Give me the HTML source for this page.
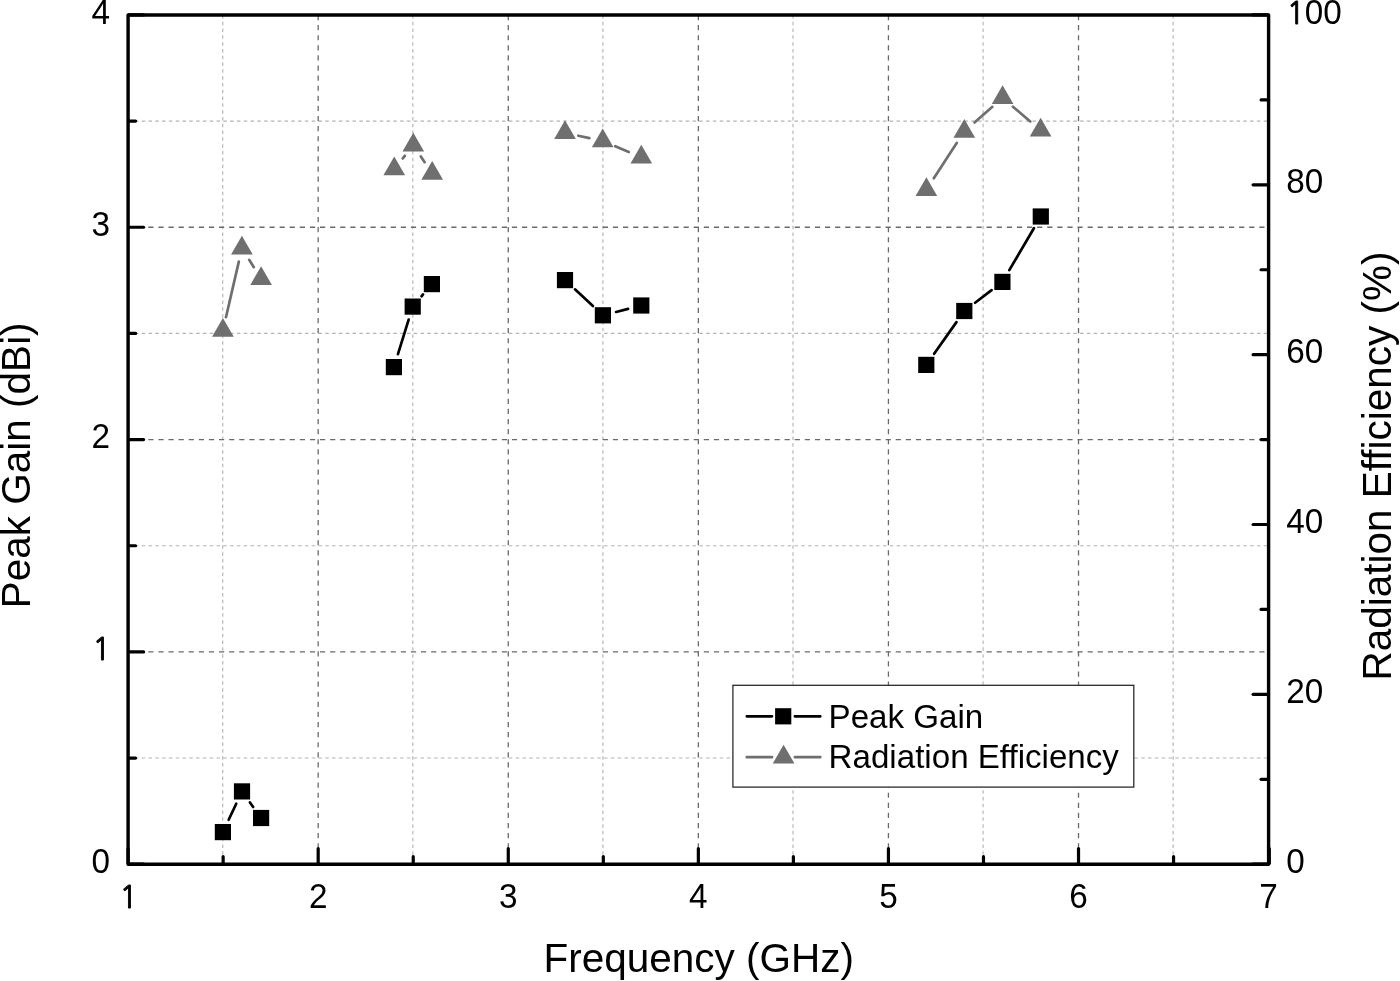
<!DOCTYPE html>
<html lang="en"><head><meta charset="utf-8"><title>Peak Gain and Radiation Efficiency vs Frequency</title>
<style>html,body{margin:0;padding:0;background:#fff;overflow:hidden}svg{display:block}text{font-family:"Liberation Sans", Arial, Helvetica, sans-serif;fill:#000}</style>
</head><body>
<svg width="1400" height="981" viewBox="0 0 1400 981">
<rect x="0" y="0" width="1400" height="981" fill="#fff"/>
<g stroke="#b4b4b4" stroke-width="1.15" stroke-dasharray="3.5 3.3" fill="none">
<line x1="222.74" y1="14.95" x2="222.74" y2="864.20"/>
<line x1="412.83" y1="14.95" x2="412.83" y2="864.20"/>
<line x1="602.91" y1="14.95" x2="602.91" y2="864.20"/>
<line x1="792.99" y1="14.95" x2="792.99" y2="864.20"/>
<line x1="983.08" y1="14.95" x2="983.08" y2="864.20"/>
<line x1="1173.16" y1="14.95" x2="1173.16" y2="864.20"/>
<line x1="128.10" y1="758.04" x2="1268.60" y2="758.04"/>
<line x1="128.10" y1="545.73" x2="1268.60" y2="545.73"/>
<line x1="128.10" y1="333.42" x2="1268.60" y2="333.42"/>
<line x1="128.10" y1="121.11" x2="1268.60" y2="121.11"/>
</g>
<g stroke="#6a6a6a" stroke-width="1.3" stroke-dasharray="5.2 4.9" fill="none">
<line x1="318.18" y1="14.95" x2="318.18" y2="864.20"/>
<line x1="508.27" y1="14.95" x2="508.27" y2="864.20"/>
<line x1="698.35" y1="14.95" x2="698.35" y2="864.20"/>
<line x1="888.43" y1="14.95" x2="888.43" y2="864.20"/>
<line x1="1078.52" y1="14.95" x2="1078.52" y2="864.20"/>
<line x1="128.10" y1="651.89" x2="1268.60" y2="651.89"/>
<line x1="128.10" y1="439.58" x2="1268.60" y2="439.58"/>
<line x1="128.10" y1="227.26" x2="1268.60" y2="227.26"/>
</g>
<g stroke="#6f6f6f" stroke-width="2.7" stroke-linecap="round" fill="none">
<line x1="225.97" y1="317.20" x2="238.83" y2="261.60"/>
<line x1="249.18" y1="259.84" x2="253.82" y2="267.16"/>
<line x1="402.72" y1="158.46" x2="404.83" y2="155.79"/>
<line x1="420.84" y1="156.47" x2="424.66" y2="162.18"/>
<line x1="578.30" y1="135.71" x2="589.40" y2="138.09"/>
<line x1="615.24" y1="146.21" x2="628.76" y2="151.89"/>
<line x1="933.82" y1="178.25" x2="956.88" y2="142.85"/>
<line x1="974.52" y1="122.48" x2="992.38" y2="106.82"/>
<line x1="1012.95" y1="106.67" x2="1030.25" y2="121.43"/>
</g>
<g fill="#6f6f6f" stroke="none">
<polygon points="222.90,317.95 233.73,336.70 212.07,336.70"/>
<polygon points="241.90,235.85 252.73,254.60 231.07,254.60"/>
<polygon points="261.10,266.15 271.93,284.90 250.27,284.90"/>
<polygon points="394.25,156.60 405.08,175.35 383.42,175.35"/>
<polygon points="413.30,132.65 424.13,151.40 402.47,151.40"/>
<polygon points="432.20,161.00 443.03,179.75 421.37,179.75"/>
<polygon points="565.00,120.35 575.83,139.10 554.17,139.10"/>
<polygon points="602.70,128.45 613.53,147.20 591.87,147.20"/>
<polygon points="641.30,144.65 652.13,163.40 630.47,163.40"/>
<polygon points="926.40,177.15 937.23,195.90 915.57,195.90"/>
<polygon points="964.30,118.95 975.13,137.70 953.47,137.70"/>
<polygon points="1002.60,85.35 1013.43,104.10 991.77,104.10"/>
<polygon points="1040.60,117.75 1051.43,136.50 1029.77,136.50"/>
</g>
<g stroke="#000" stroke-width="2.7" stroke-linecap="round" fill="none">
<line x1="228.68" y1="819.79" x2="236.22" y2="803.71"/>
<line x1="249.93" y1="802.45" x2="253.17" y2="806.95"/>
<line x1="397.94" y1="354.11" x2="408.66" y2="319.59"/>
<line x1="421.53" y1="296.25" x2="423.07" y2="294.45"/>
<line x1="574.97" y1="289.36" x2="592.93" y2="306.04"/>
<line x1="616.08" y1="311.94" x2="628.12" y2="308.86"/>
<line x1="934.14" y1="353.78" x2="956.46" y2="322.12"/>
<line x1="975.11" y1="302.74" x2="991.59" y2="290.16"/>
<line x1="1009.29" y1="270.17" x2="1033.91" y2="228.23"/>
</g>
<g fill="#000" stroke="none">
<rect x="214.80" y="824.00" width="16.20" height="16.20"/>
<rect x="233.90" y="783.30" width="16.20" height="16.20"/>
<rect x="253.00" y="809.90" width="16.20" height="16.20"/>
<rect x="385.80" y="359.00" width="16.20" height="16.20"/>
<rect x="404.60" y="298.50" width="16.20" height="16.20"/>
<rect x="423.80" y="276.00" width="16.20" height="16.20"/>
<rect x="556.90" y="272.00" width="16.20" height="16.20"/>
<rect x="594.80" y="307.20" width="16.20" height="16.20"/>
<rect x="633.20" y="297.40" width="16.20" height="16.20"/>
<rect x="918.20" y="356.80" width="16.20" height="16.20"/>
<rect x="956.20" y="302.90" width="16.20" height="16.20"/>
<rect x="994.30" y="273.80" width="16.20" height="16.20"/>
<rect x="1032.70" y="208.40" width="16.20" height="16.20"/>
</g>
<g stroke="#000" stroke-width="3.2" stroke-linecap="round" fill="none">
<line x1="128.10" y1="863.20" x2="128.10" y2="848.70"/>
<line x1="318.18" y1="863.20" x2="318.18" y2="848.70"/>
<line x1="508.27" y1="863.20" x2="508.27" y2="848.70"/>
<line x1="698.35" y1="863.20" x2="698.35" y2="848.70"/>
<line x1="888.43" y1="863.20" x2="888.43" y2="848.70"/>
<line x1="1078.52" y1="863.20" x2="1078.52" y2="848.70"/>
<line x1="1269.30" y1="863.20" x2="1269.30" y2="848.70"/>
<line x1="223.14" y1="863.20" x2="223.14" y2="856.70"/>
<line x1="413.23" y1="863.20" x2="413.23" y2="856.70"/>
<line x1="603.31" y1="863.20" x2="603.31" y2="856.70"/>
<line x1="793.39" y1="863.20" x2="793.39" y2="856.70"/>
<line x1="983.48" y1="863.20" x2="983.48" y2="856.70"/>
<line x1="1173.56" y1="863.20" x2="1173.56" y2="856.70"/>
<line x1="129.10" y1="864.20" x2="143.60" y2="864.20"/>
<line x1="129.10" y1="651.89" x2="143.60" y2="651.89"/>
<line x1="129.10" y1="439.58" x2="143.60" y2="439.58"/>
<line x1="129.10" y1="227.26" x2="143.60" y2="227.26"/>
<line x1="129.10" y1="14.95" x2="143.60" y2="14.95"/>
<line x1="129.10" y1="758.04" x2="135.60" y2="758.04"/>
<line x1="129.10" y1="545.73" x2="135.60" y2="545.73"/>
<line x1="129.10" y1="333.42" x2="135.60" y2="333.42"/>
<line x1="129.10" y1="121.11" x2="135.60" y2="121.11"/>
<line x1="1267.60" y1="864.20" x2="1253.10" y2="864.20"/>
<line x1="1267.60" y1="694.35" x2="1253.10" y2="694.35"/>
<line x1="1267.60" y1="524.50" x2="1253.10" y2="524.50"/>
<line x1="1267.60" y1="354.65" x2="1253.10" y2="354.65"/>
<line x1="1267.60" y1="184.80" x2="1253.10" y2="184.80"/>
<line x1="1267.60" y1="14.95" x2="1253.10" y2="14.95"/>
<line x1="1267.60" y1="779.28" x2="1261.10" y2="779.28"/>
<line x1="1267.60" y1="609.43" x2="1261.10" y2="609.43"/>
<line x1="1267.60" y1="439.58" x2="1261.10" y2="439.58"/>
<line x1="1267.60" y1="269.73" x2="1261.10" y2="269.73"/>
<line x1="1267.60" y1="99.88" x2="1261.10" y2="99.88"/>
</g>
<rect x="128.10" y="14.95" width="1140.50" height="849.25" fill="none" stroke="#000" stroke-width="3.4" stroke-linejoin="round"/>
<g font-size="33.3">
<text transform="translate(110.00,872.80) scale(1,1.040)" text-anchor="end">0</text>
<text transform="translate(92.56,660.49) scale(1,1.04)" style="font-family:NanumGothic,'Liberation Sans',sans-serif" font-size="29.7" stroke="#000" stroke-width="0.9">1</text>
<text transform="translate(110.00,448.18) scale(1,1.040)" text-anchor="end">2</text>
<text transform="translate(110.00,235.86) scale(1,1.040)" text-anchor="end">3</text>
<text transform="translate(110.00,23.55) scale(1,1.040)" text-anchor="end">4</text>
<text transform="translate(119.46,908.20) scale(1,1.04)" style="font-family:NanumGothic,'Liberation Sans',sans-serif" font-size="29.7" stroke="#000" stroke-width="0.9">1</text>
<text transform="translate(318.18,908.20) scale(1,1.040)" text-anchor="middle">2</text>
<text transform="translate(508.27,908.20) scale(1,1.040)" text-anchor="middle">3</text>
<text transform="translate(698.35,908.20) scale(1,1.040)" text-anchor="middle">4</text>
<text transform="translate(888.43,908.20) scale(1,1.040)" text-anchor="middle">5</text>
<text transform="translate(1078.52,908.20) scale(1,1.040)" text-anchor="middle">6</text>
<text transform="translate(1268.60,908.20) scale(1,1.040)" text-anchor="middle">7</text>
<text transform="translate(1286.20,872.80) scale(1,1.040)" text-anchor="start">0</text>
<text transform="translate(1286.20,702.95) scale(1,1.040)" text-anchor="start">20</text>
<text transform="translate(1286.20,533.10) scale(1,1.040)" text-anchor="start">40</text>
<text transform="translate(1286.20,363.25) scale(1,1.040)" text-anchor="start">60</text>
<text transform="translate(1286.20,193.40) scale(1,1.040)" text-anchor="start">80</text>
<text transform="translate(1286.86,23.55) scale(1,1.04)"><tspan style="font-family:NanumGothic,'Liberation Sans',sans-serif" font-size="29.7" stroke="#000" stroke-width="0.9">1</tspan><tspan x="17.84">00</tspan></text>
</g>
<g font-size="40.5">
<text transform="translate(698.70,971.90) scale(1,1.015)" text-anchor="middle">Frequency (GHz)</text>
<text transform="translate(30.30,465.30) rotate(-90) scale(1,1.015)" text-anchor="middle">Peak Gain (dBi)</text>
<text transform="translate(1391.20,466.00) rotate(-90) scale(1,1.015)" text-anchor="middle">Radiation Efficiency (%)</text>
</g>
<rect x="732.9" y="685.3" width="400.9" height="101.8" fill="#fff" stroke="#2b2b2b" stroke-width="1.3"/>
<g stroke-width="2.7" stroke-linecap="round" fill="none">
<path d="M746.80 716.30 H772.00 M794.90 716.30 H820.30" stroke="#000"/>
<path d="M746.80 757.20 H772.00 M794.90 757.20 H820.30" stroke="#6f6f6f"/>
</g>
<rect x="775.10" y="708.20" width="16.20" height="16.20" fill="#000"/>
<polygon points="783.60,744.70 794.43,763.45 772.77,763.45" fill="#6f6f6f"/>
<g font-size="33.15">
<text transform="translate(828.60,727.60) scale(1,1.015)" text-anchor="start">Peak Gain</text>
<text transform="translate(828.60,768.10) scale(1,1.015)" text-anchor="start">Radiation Efficiency</text>
</g>
</svg>
</body></html>
